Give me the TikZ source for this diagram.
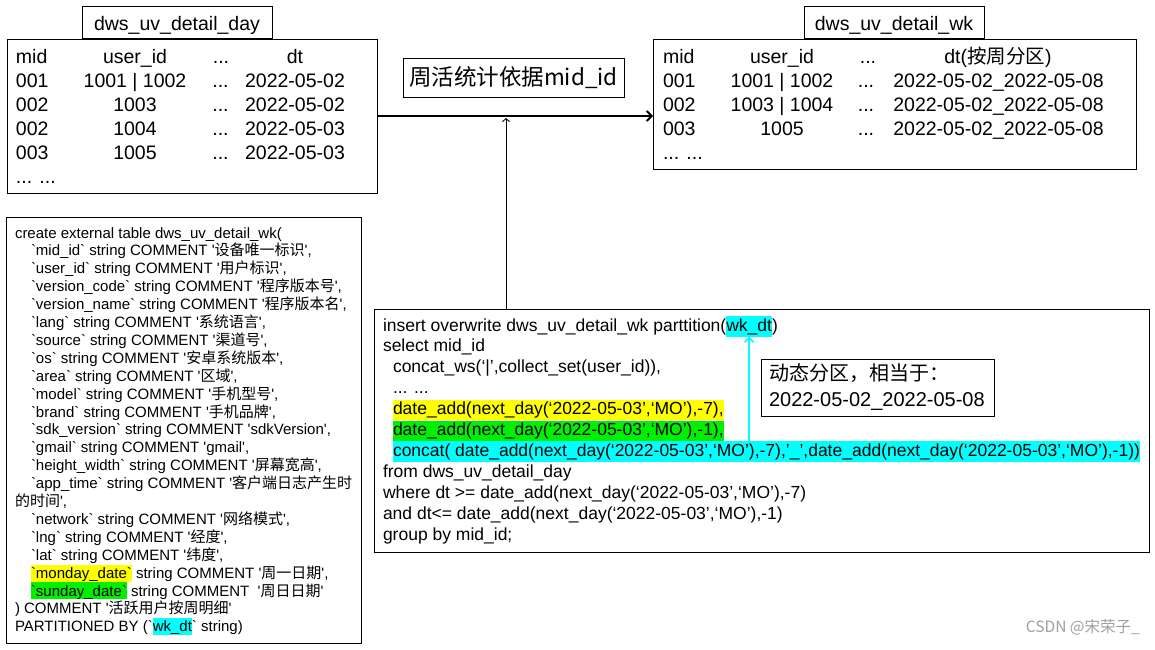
\documentclass[tikz,border=0pt]{standalone}
\usepackage{fontspec}
\newfontfamily\arial{Liberation Sans}[Ligatures=TeXOff]
\newfontfamily\cjk{Noto Sans CJK SC}[Ligatures=TeXOff]
\usetikzlibrary{arrows.meta}
\definecolor{hly}{RGB}{255,255,0}
\definecolor{hlg}{RGB}{0,240,0}
\definecolor{hlc}{RGB}{0,255,255}
\definecolor{wmgray}{RGB}{160,160,160}
\begin{document}
\begin{tikzpicture}[x=1pt,y=-1pt,
  box/.style={draw=black, line width=1pt, inner sep=0pt, outer sep=0pt},
  tabtxt/.style={font=\arial\fontsize{19.5}{23}\selectfont, inner sep=0pt, outer sep=0pt, anchor=base},
  tabl/.style={tabtxt, anchor=base west},
  ltxt/.style={font=\arial\fontsize{15}{18}\selectfont, inner sep=0pt, outer sep=0pt, anchor=base west},
  rtxt/.style={font=\arial\fontsize{17.5}{21}\selectfont, inner sep=0pt, outer sep=0pt, anchor=base west},
  lhl/.style={ltxt, text height=13.6pt, text depth=3.4pt},
  rhl/.style={rtxt, text height=15pt, text depth=5.5pt},
  mainarrow/.style={line width=1.8pt, -{Straight Barb[length=5pt,width=10pt]}},
  thinarrow/.style={line width=0.9pt, -{Straight Barb[length=3pt,width=7pt]}},
  cyanarrow/.style={draw=hlc, line width=1.6pt, -{Straight Barb[length=4.5pt,width=9pt]}},
  notetxt/.style={inner sep=0pt, outer sep=0pt, anchor=base west}
]
\useasboundingbox (0,0) rectangle (1155,649);
\fill[white] (0,0) rectangle (1155,649);

% ---------- left table ----------
\node[box, minimum width=370pt, minimum height=154pt] (ltab) at (192,116) {};
\node[box, minimum width=190pt, minimum height=32pt] (ltitle) at (177,22) {};
\node[tabtxt] (lttxt) at (177,30) {dws\_uv\_detail\_day};
\node[tabl] (lh1) at (16,63.5) {mid};
\node[tabtxt] (lh2) at (135,63.5) {user\_id};
\node[tabtxt] (lh3) at (221,63.5) {...};
\node[tabtxt] (lh4) at (295,63.5) {dt};
\foreach \yy/\a/\b/\c [count=\i] in {87.4/001/1001 | 1002/2022-05-02, 111.3/002/1003/2022-05-02, 135.2/002/1004/2022-05-03, 159.1/003/1005/2022-05-03}{
  \node[tabl] (lr\i a) at (16,\yy) {\a};
  \node[tabtxt] (lr\i b) at (135,\yy) {\b};
  \node[tabtxt] (lr\i c) at (220.5,\yy) {...};
  \node[tabtxt] (lr\i d) at (295,\yy) {\c};
}
\node[tabl] (lrdots) at (16,183) {... ...};

% ---------- right table ----------
\node[box, minimum width=483pt, minimum height=130pt] (rtab) at (894.5,104) {};
\node[box, minimum width=180pt, minimum height=32pt] (rtitle) at (894,22) {};
\node[tabtxt] (rttxt) at (894,30) {dws\_uv\_detail\_wk};
\node[tabl] (rh1) at (663,63.5) {mid};
\node[tabtxt] (rh2) at (782,63.5) {user\_id};
\node[tabtxt] (rh3) at (868,63.5) {...};
\node[tabtxt] (rh4) at (998,63.5) {dt({\cjk 按周分区})};
\foreach \yy/\a/\b [count=\i] in {87.4/001/1001 | 1002, 111.3/002/1003 | 1004, 135.2/003/1005}{
  \node[tabl] (rr\i a) at (663,\yy) {\a};
  \node[tabtxt] (rr\i b) at (782,\yy) {\b};
  \node[tabtxt] (rr\i c) at (866,\yy) {...};
  \node[tabtxt] (rr\i d) at (998.5,\yy) {2022-05-02\_2022-05-08};
}
\node[tabl] (rrdots) at (663,159.1) {... ...};

% ---------- middle label ----------
\node[box, minimum width=221pt, minimum height=39pt, font=\cjk\fontsize{22.5}{27}\selectfont] (lbl) at (513.5,77.5) {周活统计依据mid\_id};

\draw[mainarrow] (ltab.east) -- (rtab.west |- ltab.east);

% ---------- right code box ----------
\node[box, minimum width=775pt, minimum height=243pt] (rcode) at (761.5,430.5) {};
\node[rtxt] (r1) at (383,331) {insert overwrite dws\_uv\_detail\_wk parttition(};
\node[rhl, fill=hlc] (wkdt) at (r1.base east) {wk\_dt};
\node[rtxt] (r1b) at (wkdt.base east) {)};
\node[rtxt] (r2) at (383,351.9) {select mid\_id};
\node[rtxt] (r3) at (393,372.8) {concat\_ws(‘|’,collect\_set(user\_id)),};
\node[rtxt] (r4) at (393,393.7) {... ...};
\node[rhl, fill=hly] (r5) at (393,414.6) {date\_add(next\_day(‘2022-05-03’,‘MO’),-7),};
\node[rhl, fill=hlg] (r6) at (393,435.5) {date\_add(next\_day(‘2022-05-03’,‘MO’),-1),};
\node[rhl, fill=hlc] (r7) at (393,456.4) {concat( date\_add(next\_day(‘2022-05-03’,‘MO’),-7),’\_’,date\_add(next\_day(‘2022-05-03’,‘MO’),-1))};
\node[rtxt] (r8) at (383,477.3) {from dws\_uv\_detail\_day};
\node[rtxt] (r9) at (383,498.2) {where dt >= date\_add(next\_day(‘2022-05-03’,‘MO’),-7)};
\node[rtxt] (r10) at (383,519.1) {and dt<= date\_add(next\_day(‘2022-05-03’,‘MO’),-1)};
\node[rtxt] (r11) at (383,540) {group by mid\_id;};

\coordinate (vtop) at (506,118);
\draw[thinarrow] (vtop |- rcode.north) -- (vtop);

% annotation
\node[box, minimum width=233pt, minimum height=57pt] (note) at (877.5,387.5) {};
\node[notetxt, font=\cjk\fontsize{20}{24}\selectfont] (n1) at (769,380) {动态分区，相当于：};
\node[notetxt, font=\arial\fontsize{20}{24}\selectfont] (n2) at (769,406) {2022-05-02\_2022-05-08};

\draw[cyanarrow] (wkdt.south |- r7.north) -- (wkdt.south);

% ---------- left code box ----------
\node[box, minimum width=355pt, minimum height=426pt] (lcode) at (183.5,430) {};
\node[ltxt] (c1) at (15,238) {create external table dws\_uv\_detail\_wk(};
\node[ltxt] (c2) at (31,255.9) {`mid\_id` string COMMENT '{\cjk 设备唯一标识}',};
\node[ltxt] (c3) at (31,273.8) {`user\_id` string COMMENT '{\cjk 用户标识}',};
\node[ltxt] (c4) at (31,291.7) {`version\_code` string COMMENT '{\cjk 程序版本号}',};
\node[ltxt] (c5) at (31,309.6) {`version\_name` string COMMENT '{\cjk 程序版本名}',};
\node[ltxt] (c6) at (31,327.5) {`lang` string COMMENT '{\cjk 系统语言}',};
\node[ltxt] (c7) at (31,345.4) {`source` string COMMENT '{\cjk 渠道号}',};
\node[ltxt] (c8) at (31,363.3) {`os` string COMMENT '{\cjk 安卓系统版本}',};
\node[ltxt] (c9) at (31,381.2) {`area` string COMMENT '{\cjk 区域}',};
\node[ltxt] (c10) at (31,399.1) {`model` string COMMENT '{\cjk 手机型号}',};
\node[ltxt] (c11) at (31,417) {`brand` string COMMENT '{\cjk 手机品牌}',};
\node[ltxt] (c12) at (31,434.9) {`sdk\_version` string COMMENT 'sdkVersion',};
\node[ltxt] (c13) at (31,452.8) {`gmail` string COMMENT 'gmail',};
\node[ltxt] (c14) at (31,470.7) {`height\_width` string COMMENT '{\cjk 屏幕宽高}',};
\node[ltxt] (c15) at (31,488.6) {`app\_time` string COMMENT '{\cjk 客户端日志产生时}};
\node[ltxt] (c16) at (15,506.5) {{\cjk 的时间}',};
\node[ltxt] (c17) at (31,524.4) {`network` string COMMENT '{\cjk 网络模式}',};
\node[ltxt] (c18) at (31,542.3) {`lng` string COMMENT '{\cjk 经度}',};
\node[ltxt] (c19) at (31,560.2) {`lat` string COMMENT '{\cjk 纬度}',};
\node[lhl, fill=hly] (c20) at (31,578.1) {`monday\_date`};
\node[ltxt] (c20b) at (c20.base east) {\ string COMMENT '{\cjk 周一日期}',};
\node[lhl, fill=hlg] (c21) at (31,596) {`sunday\_date`};
\node[ltxt] (c21b) at (c21.base east) {\ string COMMENT\ \ '{\cjk 周日日期}'};
\node[ltxt] (c22) at (15,613.9) {) COMMENT '{\cjk 活跃用户按周明细}'};
\node[ltxt] (c23) at (15,631.8) {PARTITIONED BY (`};
\node[lhl, fill=hlc] (c23h) at (c23.base east) {wk\_dt};
\node[ltxt] (c23b) at (c23h.base east) {` string)};

% watermark
\node[anchor=base east, inner sep=0pt, font=\cjk\fontsize{15.5}{18}\selectfont, text=wmgray] (wmark) at (1140,632) {CSDN @宋荣子\_};
\end{tikzpicture}
\end{document}
